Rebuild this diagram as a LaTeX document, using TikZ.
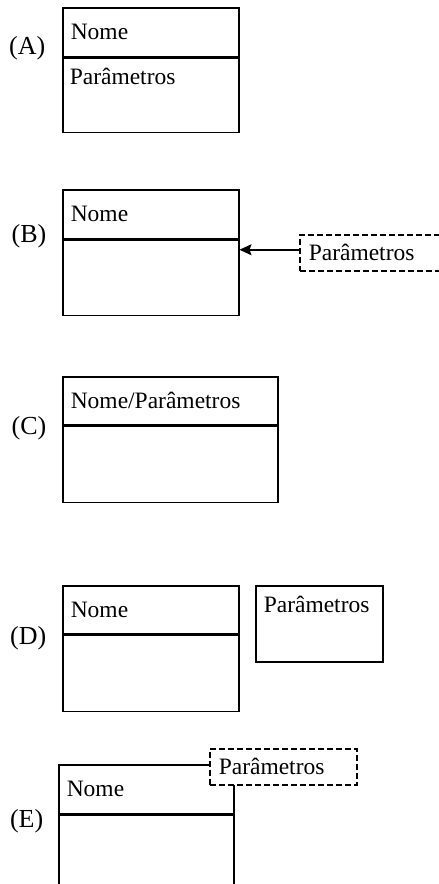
\documentclass[tikz,border=0pt]{standalone}
\usepackage{fontspec}
\setmainfont{Liberation Serif}
\usetikzlibrary{arrows.meta}

\begin{document}
\begin{tikzpicture}[x=1pt,y=-1pt,line width=1.5pt,
	every node/.style={font=\fontsize{23.5}{28}\selectfont},
	part/.style={draw,rectangle,anchor=north west,inner xsep=8pt,inner ysep=0pt,align=left},
	divider/.style={line width=2pt},
	txt/.style={anchor=base west,inner sep=0pt},
	tag/.style={anchor=base east,inner sep=0pt,font=\fontsize{26}{30}\selectfont},
	param/.style={draw,dash pattern=on 6pt off 3pt,fill=white,anchor=north west,minimum height=36pt,inner xsep=9pt,inner ysep=0pt,text width=#1,align=left},
	param/.default=129pt]
		
		\path[use as bounding box,clip] (0,0) rectangle (439,884);
		
		% (A)
		\node[part,text width=160pt,minimum height=49pt] (headA) at (62,7) {Nome};
		\node[part,text width=160pt,minimum height=74pt] (bodyA) at (headA.south west) {};
		\node[txt] (parA) at ([xshift=7pt,yshift=-27pt]bodyA.north west) {Parâmetros};
		\draw[divider] (headA.south west) -- (headA.south east);
		\node[tag] (labA) at (46,54) {(A)};
		
		% (B)
		\node[part,text width=160pt,minimum height=49pt] (headB) at (62,189) {Nome};
		\node[part,text width=160pt,minimum height=75pt] (bodyB) at (headB.south west) {};
		\draw[divider] (headB.south west) -- (headB.south east);
		\node[param=160pt] (parB) at (299,234) {Parâmetros};
		\coordinate (outB) at ([yshift=3pt]parB.west);
		\draw[-{Stealth[length=12pt,width=11pt,inset=2pt]}] (outB) -- (outB -| bodyB.east);
		\node[tag] (labB) at (47,242) {(B)};
		
		% (C)
		\node[part,text width=199pt,minimum height=48pt] (headC) at (62,376) {Nome/Parâmetros};
		\node[part,text width=199pt,minimum height=76pt] (bodyC) at (headC.south west) {};
		\draw[divider] (headC.south west) -- (headC.south east);
		\node[tag] (labC) at (47,434) {(C)};
		
		% (D)
		\node[part,text width=160pt,minimum height=48pt] (headD) at (62,585) {Nome};
		\node[part,text width=160pt,minimum height=76pt] (bodyD) at (headD.south west) {};
		\draw[divider] (headD.south west) -- (headD.south east);
		\node[part,text width=111pt,minimum height=76pt] (boxD) at (255,585) {};
		\node[txt] (parD) at ([xshift=8pt,yshift=-27pt]boxD.north west) {Parâmetros};
		\node[tag] (labD) at (47,644) {(D)};
		
		% (E)
		\node[part,text width=159pt,minimum height=49pt] (headE) at (58,764) {Nome};
		\node[part,text width=159pt,minimum height=100pt] (bodyE) at (headE.south west) {};
		\draw[divider] (headE.south west) -- (headE.south east);
		\node[param] (parE) at (209,748) {Parâmetros};
		\node[tag] (labE) at (44,827) {(E)};
	\end{tikzpicture}
\end{document}
